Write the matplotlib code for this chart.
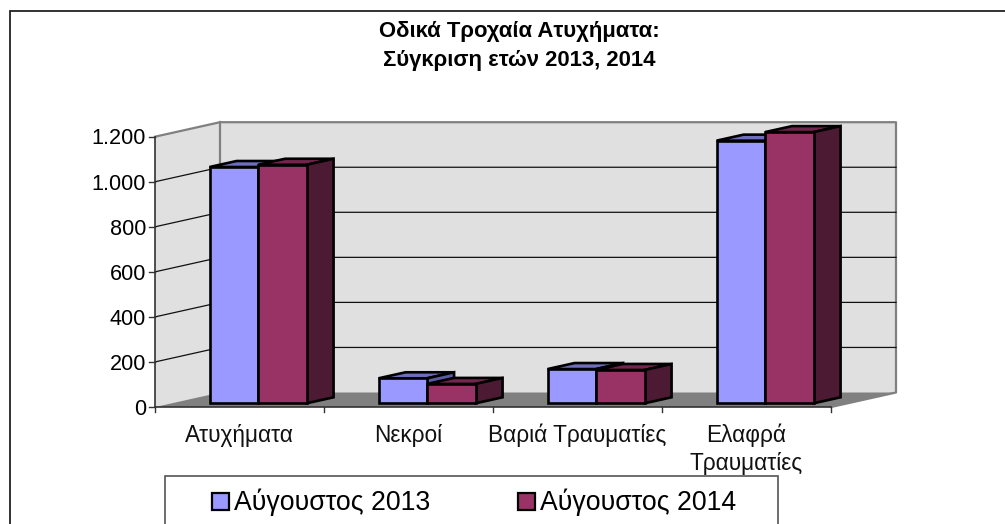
import matplotlib
matplotlib.use('Agg')
import matplotlib.pyplot as plt
from matplotlib.patches import Polygon, Rectangle

plt.rcParams['font.family'] = ['Liberation Sans', 'DejaVu Sans']

# Dados do gráfico
categories = ['Ατυχήματα', 'Νεκροί', 'Βαριά Τραυματίες', 'Ελαφρά\nΤραυματίες']
aug_2013 = [1049, 111, 152, 1166]
aug_2014 = [1059, 86, 148, 1204]
series_names = ['Αύγουστος 2013', 'Αύγουστος 2014']
y_ticks = [0, 200, 400, 600, 800, 1000, 1200]
y_labels = ['0', '200', '400', '600', '800', '1.000', '1.200']

W, H = 1005, 524
fig = plt.figure(figsize=(W / 100, H / 100), dpi=100, facecolor='white')

# Eixo principal: plano frontal do gráfico 3D
left, right, bottom, top = 155, 831, 407, 136.7
ax = fig.add_axes([left / W, 1 - bottom / H, (right - left) / W, (bottom - top) / H])
ax.set_xlim(0, len(categories))
ax.set_ylim(0, 1200)
ax.axis('off')

# Profundidade 3D em unidades dos dados
depth_x = 65 / ((right - left) / len(categories))
depth_y = 14.5 / ((bottom - top) / 1200)


def proj(x, y, d=0.0):
    return (x + d * depth_x, y + d * depth_y)


def poly(points, face, edge='none', lw=0, z=1):
    ax.add_patch(Polygon(points, closed=True, facecolor=face, edgecolor=edge, linewidth=lw,
                         joinstyle='miter', zorder=z, clip_on=False))


n = len(categories)
wall = '#E0E0E0'
gray = '#808080'

# Paredes e chão
poly([proj(0, 0), proj(0, 1200), proj(0, 1200, 1), proj(0, 0, 1)], wall, z=1)
poly([proj(0, 0, 1), proj(0, 1200, 1), proj(n, 1200, 1), proj(n, 0, 1)], wall, z=1)
poly([proj(0, 0), proj(0, 0, 1), proj(n, 0, 1), proj(n, 0)], gray, z=1)
ax.plot(*zip(proj(0, 1200), proj(0, 1200, 1), proj(n, 1200, 1), proj(n, 0, 1), proj(n, 0)),
        color=gray, lw=1.6, zorder=2, clip_on=False)
ax.plot(*zip(proj(0, 1200, 1), proj(0, 0, 1)), color=gray, lw=1.6, zorder=2, clip_on=False)

# Linhas de grade
for v in y_ticks[1:-1]:
    ax.plot(*zip(proj(0, v), proj(0, v, 1), proj(n, v, 1)), color='#111111', lw=0.9, zorder=3, clip_on=False)

# Eixos e marcas
ax.plot([0, 0], [0, 1200], color='#333333', lw=1.2, zorder=3, clip_on=False)
ax.plot([0, n], [0, 0], color='#333333', lw=1.2, zorder=3, clip_on=False)
for v, lab in zip(y_ticks, y_labels):
    ax.plot([-0.035, 0], [v, v], color='#333333', lw=1.0, zorder=3, clip_on=False)
    ax.text(-0.053, v - 10, lab, ha='right', va='center', fontsize=15.6, color='black')
for i in range(n + 1):
    ax.plot([i, i], [0, -22], color='#333333', lw=1.0, zorder=3, clip_on=False)
for i, lab in enumerate(categories):
    ax.text(i + 0.5, -74, lab, ha='center', va='top', fontsize=16.3, color='#111111', linespacing=1.27)

# Barras em 3D
bar_w = 0.287
x_start = 0.225
d0, d1 = 0.255, 0.67
colors = [('#9999FF', '#6E6EBD', '#5A5AA5'), ('#993366', '#73264D', '#4D1A33')]


def draw_bar(x, v, cols, z):
    x2 = x + bar_w
    poly([proj(x, v, d0), proj(x, v, d1), proj(x2, v, d1), proj(x2, v, d0)], cols[1], 'black', 1.9, z)
    poly([proj(x2, 0, d0), proj(x2, v, d0), proj(x2, v, d1), proj(x2, 0, d1)], cols[2], 'black', 1.9, z)
    poly([proj(x, 0, d0), proj(x, v, d0), proj(x2, v, d0), proj(x2, 0, d0)], cols[0], 'black', 1.9, z + 0.1)


for i in range(n):
    draw_bar(i + x_start, aug_2013[i], colors[0], 5 + i)
    draw_bar(i + x_start + bar_w, aug_2014[i], colors[1], 5.5 + i)

# Título
fig.text(519 / W, 1 - 46 / H, 'Οδικά Τροχαία Ατυχήματα:\nΣύγκριση ετών 2013, 2014', ha='center', va='center',
         fontsize=15.9, fontweight='bold', linespacing=1.45)

# Moldura externa (cortada embaixo e à direita)
fig.add_artist(Rectangle((10 / W, -0.1), 1.1, 1.1 - 10.7 / H, transform=fig.transFigure, fill=False,
                         edgecolor='#222222', linewidth=1.3))

# Legenda (cortada embaixo)
fig.add_artist(Rectangle((165 / W, -0.1), 613 / W, 0.1 + 1 - 476 / H, transform=fig.transFigure, fill=False,
                         edgecolor='#555555', linewidth=1.2))
for xm, name, cols in zip([212, 518], series_names, colors):
    fig.add_artist(Rectangle((xm / W, 1 - 510 / H), 17 / W, 17 / H, transform=fig.transFigure,
                             facecolor=cols[0], edgecolor='black', linewidth=1.6))
    fig.text((xm + 22) / W, 1 - 502 / H, name, ha='left', va='center', fontsize=19.2)

fig.savefig('out.png', dpi=100)
